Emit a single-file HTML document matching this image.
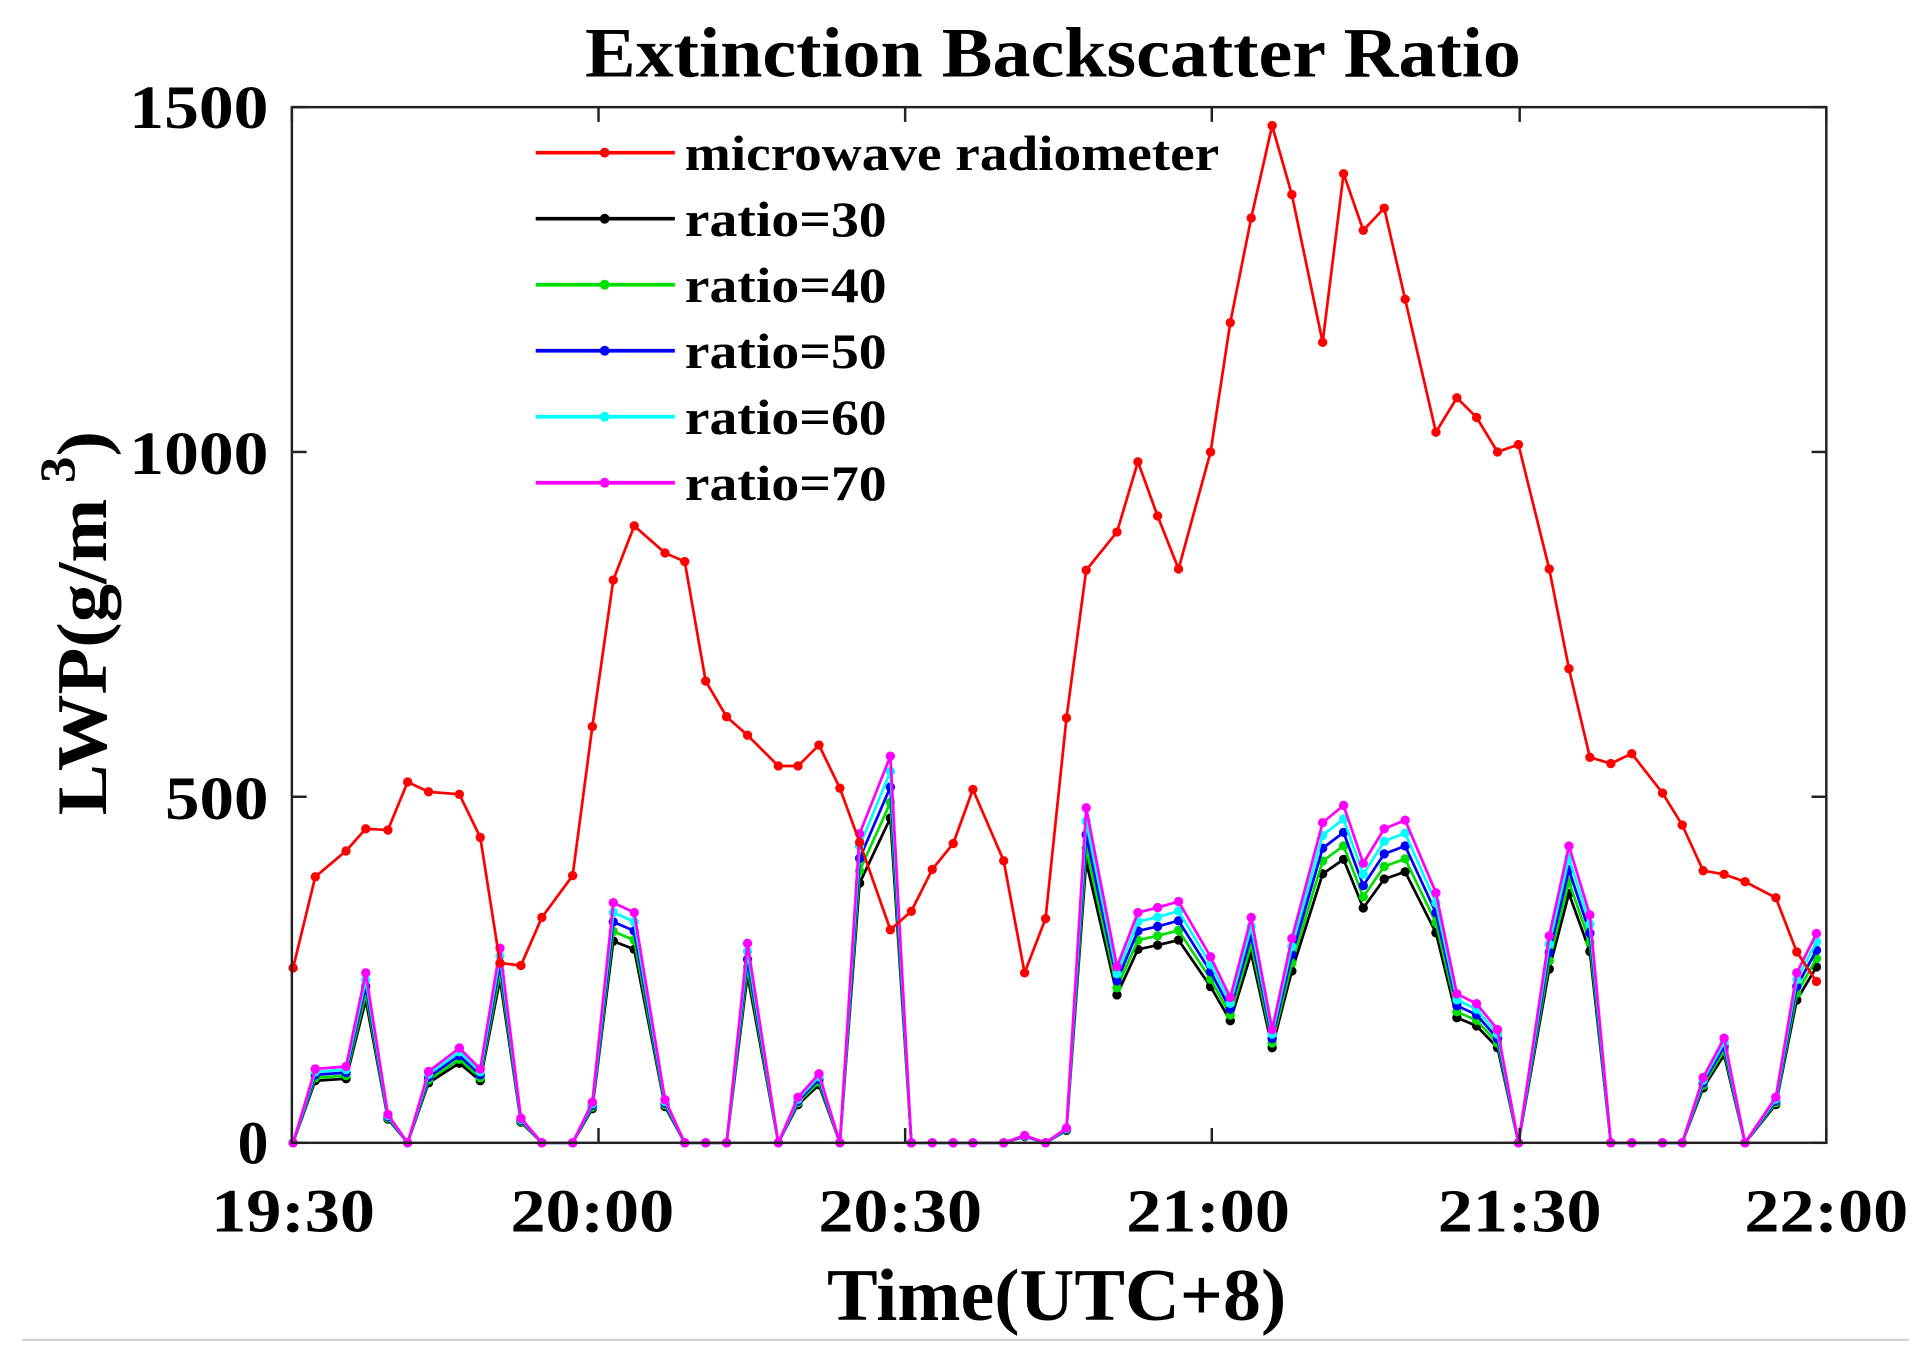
<!DOCTYPE html>
<html><head><meta charset="utf-8"><style>html,body{margin:0;padding:0;background:#fff}svg{display:block}</style></head>
<body>
<svg id="s" width="1931" height="1346" viewBox="0 0 1568 1093" preserveAspectRatio="none" xmlns="http://www.w3.org/2000/svg" font-family="Liberation Serif, serif" font-weight="bold">
<rect width="1568" height="1093" fill="#fff"/>
<text x="855" y="62" font-size="58" text-anchor="middle" textLength="760" lengthAdjust="spacingAndGlyphs">Extinction Backscatter Ratio</text>
<g id="data"></g>
<rect x="237" y="87" width="1246" height="841" fill="none" stroke="#222" stroke-width="2"/>
<g id="ticks" stroke="#222" stroke-width="2"></g>
<g font-size="50" text-anchor="end">
<text x="218" y="945">0</text>
<text x="218" y="665" textLength="84" lengthAdjust="spacingAndGlyphs">500</text>
<text x="218" y="385" textLength="113" lengthAdjust="spacingAndGlyphs">1000</text>
<text x="218" y="104" textLength="113" lengthAdjust="spacingAndGlyphs">1500</text>
</g>
<g font-size="50" text-anchor="middle">
<text x="238" y="1000" textLength="133" lengthAdjust="spacingAndGlyphs">19:30</text>
<text x="481" y="1000" textLength="133" lengthAdjust="spacingAndGlyphs">20:00</text>
<text x="731" y="1000" textLength="133" lengthAdjust="spacingAndGlyphs">20:30</text>
<text x="981" y="1000" textLength="133" lengthAdjust="spacingAndGlyphs">21:00</text>
<text x="1234" y="1000" textLength="133" lengthAdjust="spacingAndGlyphs">21:30</text>
<text x="1483" y="1000" textLength="133" lengthAdjust="spacingAndGlyphs">22:00</text>
</g>
<text x="858" y="1072" font-size="60" text-anchor="middle" textLength="373" lengthAdjust="spacingAndGlyphs">Time(UTC+8)</text>
<text transform="translate(86,662) rotate(-90)" font-size="58" textLength="312" lengthAdjust="spacingAndGlyphs">LWP(g/m<tspan font-size="40" dy="-26" dx="12">3</tspan><tspan dy="26">)</tspan></text>
<g id="legend" font-size="40"></g>
<line x1="18" y1="1088" x2="1550" y2="1088" stroke="#ccc" stroke-width="1.5"/>
</svg>
<script>
var NS="http://www.w3.org/2000/svg";
function el(t,a,p){var e=document.createElementNS(NS,t);for(var k in a)e.setAttribute(k,a[k]);p.appendChild(e);return e;}
var tk=document.getElementById('ticks');
[928,647,367,87].forEach(function(y){el('line',{x1:237,y1:y,x2:249,y2:y},tk);el('line',{x1:1483,y1:y,x2:1471,y2:y},tk);});
[237,486,735,984,1234,1483].forEach(function(x){el('line',{x1:x,y1:928,x2:x,y2:916},tk);el('line',{x1:x,y1:87,x2:x,y2:99},tk);});
var red=[[238,786],[256,712],[281,691],[297,673],[315,674],[331,635],[348,643],[373,645],[390,680],[406,782],[423,784],[440,745],[465,711],[481,590],[498,471],[515,427],[540,449],[556,456],[573,553],[590,582],[607,597],[632,622],[648,622],[665,605],[682,640],[698,684],[723,755],[740,740],[757,706],[774,685],[790,641],[815,699],[832,790],[849,746],[866,583],[882,463],[907,432],[924,375],[940,419],[957,462],[983,367],[999,262],[1016,177],[1033,102],[1049,158],[1074,278],[1091,141],[1107,187],[1124,169],[1141,243],[1166,351],[1183,323],[1199,339],[1216,367],[1233,361],[1258,462],[1274,543],[1291,615],[1308,620],[1325,612],[1350,644],[1366,670],[1383,707],[1400,710],[1417,716],[1442,729],[1459,773],[1475,797]];
var mag=[[238,928],[256,868],[281,866],[297,790],[315,905],[331,928],[348,870],[373,851],[390,868],[406,770],[423,908],[440,928],[465,928],[481,895],[498,733],[515,741],[540,893],[556,928],[573,928],[590,928],[607,766],[632,928],[648,891],[665,872],[682,928],[698,677],[723,614],[740,928],[757,928],[774,928],[790,928],[815,928],[832,922],[849,928],[866,916],[882,656],[907,785],[924,741],[940,737],[957,732],[983,777],[999,810],[1016,745],[1033,836],[1049,762],[1074,668],[1091,654],[1107,701],[1124,673],[1141,666],[1166,725],[1183,807],[1199,815],[1216,836],[1233,928],[1258,760],[1274,687],[1291,743],[1308,928],[1325,928],[1350,928],[1366,928],[1383,875],[1400,843],[1417,928],[1442,891],[1459,790],[1475,758]];
var d=document.getElementById('data');
function series(pts,col){
  el('polyline',{points:pts.map(function(p){return p.join(',')}).join(' '),fill:'none',stroke:col,'stroke-width':2.2},d);
  pts.forEach(function(p){el('circle',{cx:p[0],cy:p[1],r:3.8,fill:col},d);});
}
var sc=[['#000',0.84],['#00e000',0.88],['#0000ff',0.92],['#00ffff',0.96],['#ff00ff',1]];
sc.forEach(function(s){series(mag.map(function(p){return [p[0],928-(928-p[1])*s[1]];}),s[0]);});
series(red,'#ff0000');
var lg=document.getElementById('legend');
var L=[['#ff0000','microwave radiometer',434],['#000','ratio=30',164],['#00e000','ratio=40',164],['#0000ff','ratio=50',164],['#00ffff','ratio=60',164],['#ff00ff','ratio=70',164]];
L.forEach(function(l,i){var y=124+i*53.6;
 el('line',{x1:435,y1:y,x2:548,y2:y,stroke:l[0],'stroke-width':3},lg);
 el('circle',{cx:491,cy:y,r:4,fill:l[0]},lg);
 var t=el('text',{x:556,y:y+14,textLength:l[2],lengthAdjust:'spacingAndGlyphs'},lg);t.textContent=l[1];});
</script>
</body></html>
